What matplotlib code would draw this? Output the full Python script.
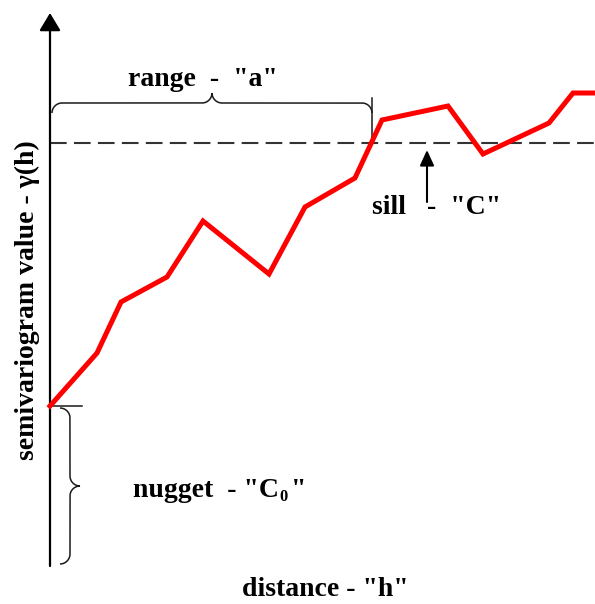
import numpy as np
import matplotlib
matplotlib.use("Agg")
import matplotlib.pyplot as plt
from matplotlib.path import Path
from matplotlib.patches import PathPatch

plt.rcParams['font.family'] = ['Liberation Serif', 'DejaVu Serif']
plt.rcParams['font.weight'] = 'bold'

# Experimental semivariogram (lag distance vs. semivariance)
distance = [0.0, 4.7, 7.1, 11.7, 15.3, 21.9, 25.5, 30.5, 33.2, 39.8, 43.3, 49.9, 52.3, 55.0]
gamma = [16.0, 21.3, 26.4, 28.9, 34.5, 29.2, 35.9, 38.8, 44.6, 46.0, 41.2, 44.3, 47.3, 47.3]

nugget = 16.0
sill = 42.3
range_a = 32.2

x_label = 'distance - "h"'
y_label = 'semivariogram value - γ(h)'
range_label = 'range  -  "a"'
sill_label = 'sill   -  "C"'
nugget_parts = ('nugget  - "C', '0', '"')

fig = plt.figure(figsize=(5.95, 6.04), dpi=100)
ax = fig.add_axes([0, 0, 1, 1])
ax.set_xlim(-5.0, 54.5)
ax.set_ylim(-3.8, 56.6)
ax.axis('off')

FS = 20
ink = '#1a1a1a'


def brace_points(length, r, n=40):
    """Curly brace in local coords: runs along +u, bulges toward +v."""
    half = length / 2.0
    th = np.linspace(np.pi, np.pi / 2, n)
    a1 = np.column_stack([r + r * np.cos(th), r * np.sin(th)])
    th2 = np.linspace(-np.pi / 2, 0, n)
    a2 = np.column_stack([half - r + r * np.cos(th2), 2 * r + r * np.sin(th2)])
    left = np.vstack([a1, a2])
    right = left[::-1].copy()
    right[:, 0] = length - right[:, 0]
    return np.vstack([left, right])


def draw_brace(ax, start, end, base, r, horizontal=True, **kw):
    pts = brace_points(end - start, r)
    if horizontal:
        xy = np.column_stack([start + pts[:, 0], base + pts[:, 1]])
    else:
        xy = np.column_stack([base + pts[:, 1], start + pts[:, 0]])
    ax.add_patch(PathPatch(Path(xy), fill=False, **kw))


# Axes with arrowheads
ax.annotate('', xy=(0, 55.3), xytext=(0, 0),
            arrowprops=dict(arrowstyle='-|>,head_length=1.08,head_width=0.65',
                            lw=1.6, color='black', shrinkA=0, shrinkB=0))
ax.annotate('', xy=(55.0, 0), xytext=(0, 0),
            arrowprops=dict(arrowstyle='-|>,head_length=1.08,head_width=0.65',
                            lw=1.6, color='black', shrinkA=0, shrinkB=0))

# Sill level
ax.plot([0, 54.5], [sill, sill], color='#333333', lw=1.5,
        linestyle=(0, (8, 3.5)), zorder=2)

# Semivariogram
ax.plot(distance, gamma, color='#ff0000', lw=3.6, solid_joinstyle='miter', zorder=3)

# Range brace
draw_brace(ax, 0.2, range_a, 45.3, 1.0, horizontal=True, lw=1.1, edgecolor=ink)
ax.plot([range_a, range_a], [sill, 46.8], color=ink, lw=1.1)
ax.text(15.3, 48.6, range_label, fontsize=FS, ha='center', va='center')

# Nugget brace
ax.plot([0, 3.2], [nugget, nugget], color=ink, lw=1.1)
draw_brace(ax, 0.2, nugget - 0.2, 1.0, 1.0, horizontal=False, lw=1.1, edgecolor=ink)

# Nugget label with a small subscript, placed piece by piece on one baseline
base_y = 6.9
renderer = fig.canvas.get_renderer()
t_main = ax.text(8.3, base_y, nugget_parts[0], fontsize=FS, ha='left', va='baseline')
x_end = ax.transData.inverted().transform(
    t_main.get_window_extent(renderer).get_points())[1, 0]
t_sub = ax.text(x_end + 0.05, base_y - 0.4, nugget_parts[1], fontsize=12,
                ha='left', va='baseline')
x_end = ax.transData.inverted().transform(
    t_sub.get_window_extent(renderer).get_points())[1, 0]
ax.text(x_end + 0.3, base_y, nugget_parts[2], fontsize=FS, ha='left', va='baseline')

# Sill arrow
ax.annotate('', xy=(37.7, 41.6), xytext=(37.7, 36.4),
            arrowprops=dict(arrowstyle='-|>,head_length=0.94,head_width=0.43',
                            lw=1.5, color='black', shrinkA=0, shrinkB=0))
ax.text(32.2, 35.9, sill_label, fontsize=FS, ha='left', va='center')

# Axis titles
ax.text(27.5, -2.4, x_label, fontsize=FS, ha='center', va='center')
ax.text(-2.3, 26.6, y_label, fontsize=FS, ha='center', va='center', rotation=90)

fig.savefig('out.png', dpi=100)
